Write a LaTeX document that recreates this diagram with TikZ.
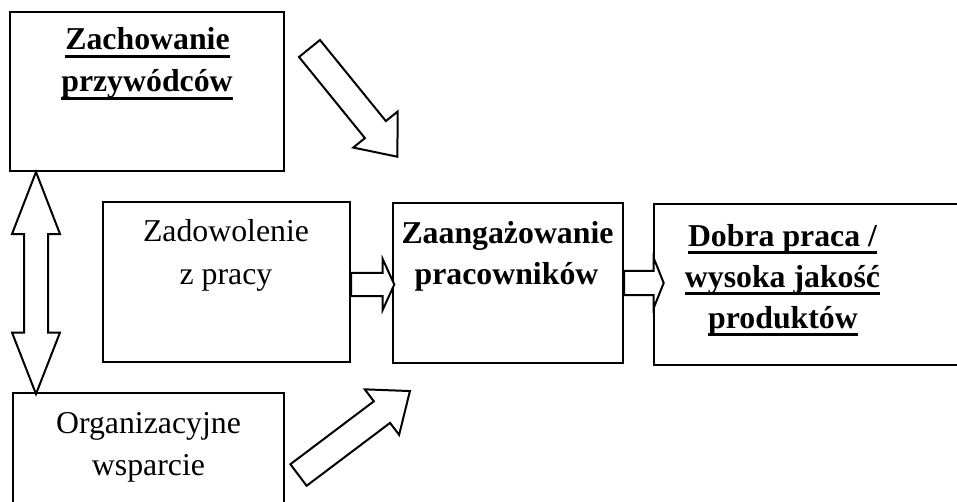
\documentclass[tikz,border=0pt]{standalone}
\usepackage{fontspec}
\setmainfont{Liberation Serif}
\usetikzlibrary{calc}
\newcommand\ulword[1]{\setbox0\hbox{#1}\rlap{\rule[-4pt]{\wd0}{1.4pt}}\box0}
\newcommand\blockarr[4]{%
  \draw[arrowline] (0,-#3) -- (#2,-#3) -- (#2,-#4) -- (#1,0) -- (#2,#4) -- (#2,#3) -- (0,#3) -- cycle;}
\tikzset{
  boxnode/.style={draw, line width=1pt, rectangle, inner sep=0pt},
  txt/.style={anchor=base, inner sep=0pt, font=\fontsize{15.9pt}{19pt}\selectfont},
  btxt/.style={txt, font=\fontsize{15.9pt}{19pt}\selectfont\bfseries},
  arrowline/.style={draw, line width=1pt, fill=white, line join=miter}
}
\begin{document}
\begin{tikzpicture}[x=0.5pt,y=-0.5pt]
\clip (0,0) rectangle (957,502);
\fill[white] (0,0) rectangle (957,502);
% boxes
\node[boxnode, minimum width=137pt, minimum height=79.5pt] (B1) at (147,91.5) {};
\node[boxnode, minimum width=123.5pt, minimum height=80pt] (B2) at (226.5,282) {};
\node[boxnode, minimum width=135.5pt, minimum height=63.5pt] (B3) at (148.5,456.5) {};
\node[boxnode, minimum width=115pt, minimum height=80pt] (B4) at (508,283) {};
\node[boxnode, minimum width=163pt, minimum height=80.5pt] (B5) at (817,284.5) {};
% texts
\node[btxt] (t1a) at (147.5,50) {\ulword{Zachowanie}};
\node[btxt] (t1b) at (147,92) {\ulword{przywódców}};
\node[txt] (t2a) at (226,242) {Zadowolenie};
\node[txt] (t2b) at (226,284) {z pracy};
\node[txt] (t3a) at (148.5,433) {Organizacyjne};
\node[txt] (t3b) at (148.5,475) {wsparcie};
\node[btxt] (t4a) at (507.5,243) {Zaangażowanie};
\node[btxt] (t4b) at (506.5,284) {pracowników};
\node[btxt] (t5a) at (782.5,246) {\ulword{Dobra praca /}};
\node[btxt] (t5b) at (782.5,287) {\ulword{wysoka jakość}};
\node[btxt] (t5c) at (783,328) {\ulword{produktów}};
% horizontal arrows
\begin{scope}[shift={($(B2.east)+(0,2.5)$)}]
  \blockarr{43.3}{31.7}{11.6}{25.4}
\end{scope}
\begin{scope}[shift={(B4.east)}]
  \blockarr{39.7}{29.7}{12.2}{25}
\end{scope}
% diagonal arrows
\begin{scope}[shift={(309.5,48.5)}, rotate=-50.9]
  \blockarr{139.5}{104.5}{13.5}{28.5}
\end{scope}
\begin{scope}[shift={(298.5,475)}, rotate=37]
  \blockarr{139.5}{104.5}{13.5}{28.5}
\end{scope}
% vertical double arrow
\coordinate (dtop) at ($(B1.south west)+(27,0)$);
\draw[arrowline] (dtop) -- ++(-24,62) -- ++(12,0) -- ++(0,98.5) -- ++(-12,0) -- ++(24,61.5)
  -- ++(24,-61.5) -- ++(-12,0) -- ++(0,-98.5) -- ++(12,0) -- cycle;
\end{tikzpicture}
\end{document}
